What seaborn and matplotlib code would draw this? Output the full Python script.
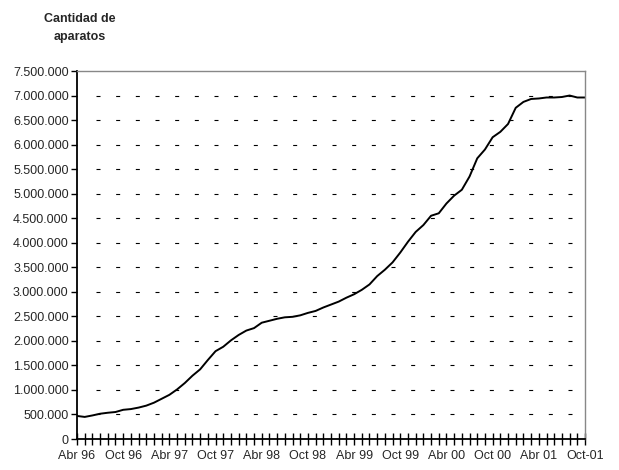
import matplotlib
matplotlib.use("Agg")
import matplotlib.pyplot as plt
import matplotlib.ticker as mticker
import pandas as pd
import seaborn as sns

# cantidad de aparatos por mes, abr 96 .. oct 01
months = list(range(67))
aparatos = [
    470, 450, 480, 515, 535, 550, 595, 610, 640, 680,
    740, 820, 900, 1010, 1140, 1290, 1420, 1610, 1790, 1880,
    2010, 2120, 2210, 2260, 2370, 2410, 2450, 2480, 2490, 2520,
    2570, 2610, 2680, 2740, 2800, 2880, 2950, 3040, 3150, 3320,
    3450, 3600, 3800, 4020, 4220, 4360, 4550, 4600, 4800, 4960,
    5080, 5350, 5720, 5900, 6150, 6260, 6420, 6750, 6870, 6930,
    6940, 6960, 6960, 6970, 7000, 6960, 6960,
]
aparatos = [v * 1000 for v in aparatos]
tick_labels = ["Abr 96", "Oct 96", "Abr 97", "Oct 97", "Abr 98", "Oct 98",
               "Abr 99", "Oct 99", "Abr 00", "Oct 00", "Abr 01", "Oct-01"]

df = pd.DataFrame({"mes": months, "aparatos": aparatos})

sns.set_style("white")
plt.rcParams["font.family"] = ["Liberation Sans", "DejaVu Sans"]

fig = plt.figure(figsize=(6.19, 4.7), dpi=100)
ax = fig.add_axes([77 / 619, 1 - 439 / 470, 508 / 619, 368 / 470])

sns.lineplot(data=df, x="mes", y="aparatos", color="black", linewidth=1.4, ax=ax)

ax.set_xlim(0, 66)
ax.set_ylim(0, 7500000)
ax.set_xlabel("")
ax.set_ylabel("")

ax.yaxis.set_major_locator(mticker.MultipleLocator(500000))
ax.yaxis.set_major_formatter(
    mticker.FuncFormatter(lambda v, p: f"{int(v):,}".replace(",", ".")))
ax.set_xticks(range(0, 67, 6))
ax.set_xticklabels(tick_labels)
ax.xaxis.set_minor_locator(mticker.MultipleLocator(1))

ax.tick_params(axis="x", which="both", bottom=True, direction="inout", length=8,
               width=1, color="black", labelsize=9, pad=4)
ax.tick_params(axis="y", left=True, direction="out", length=4, width=1,
               color="black", labelsize=9, pad=2)

# lineas de division punteadas
for v in range(500000, 7500000, 500000):
    ax.axhline(v, xmin=19 / 508, color="black", linewidth=0.8,
               linestyle=(0, (3.6, 14.1)), zorder=0)

for side in ["left", "bottom"]:
    ax.spines[side].set_color("black")
    ax.spines[side].set_linewidth(1.3)
for side in ["top", "right"]:
    ax.spines[side].set_visible(True)
    ax.spines[side].set_color("#888888")
    ax.spines[side].set_linewidth(1.0)

fig.text(80 / 619, 1 - 28 / 470, "Cantidad de\naparatos", ha="center",
         va="center", fontsize=9, fontweight="bold", linespacing=1.6)

fig.savefig("out.png", dpi=100)
